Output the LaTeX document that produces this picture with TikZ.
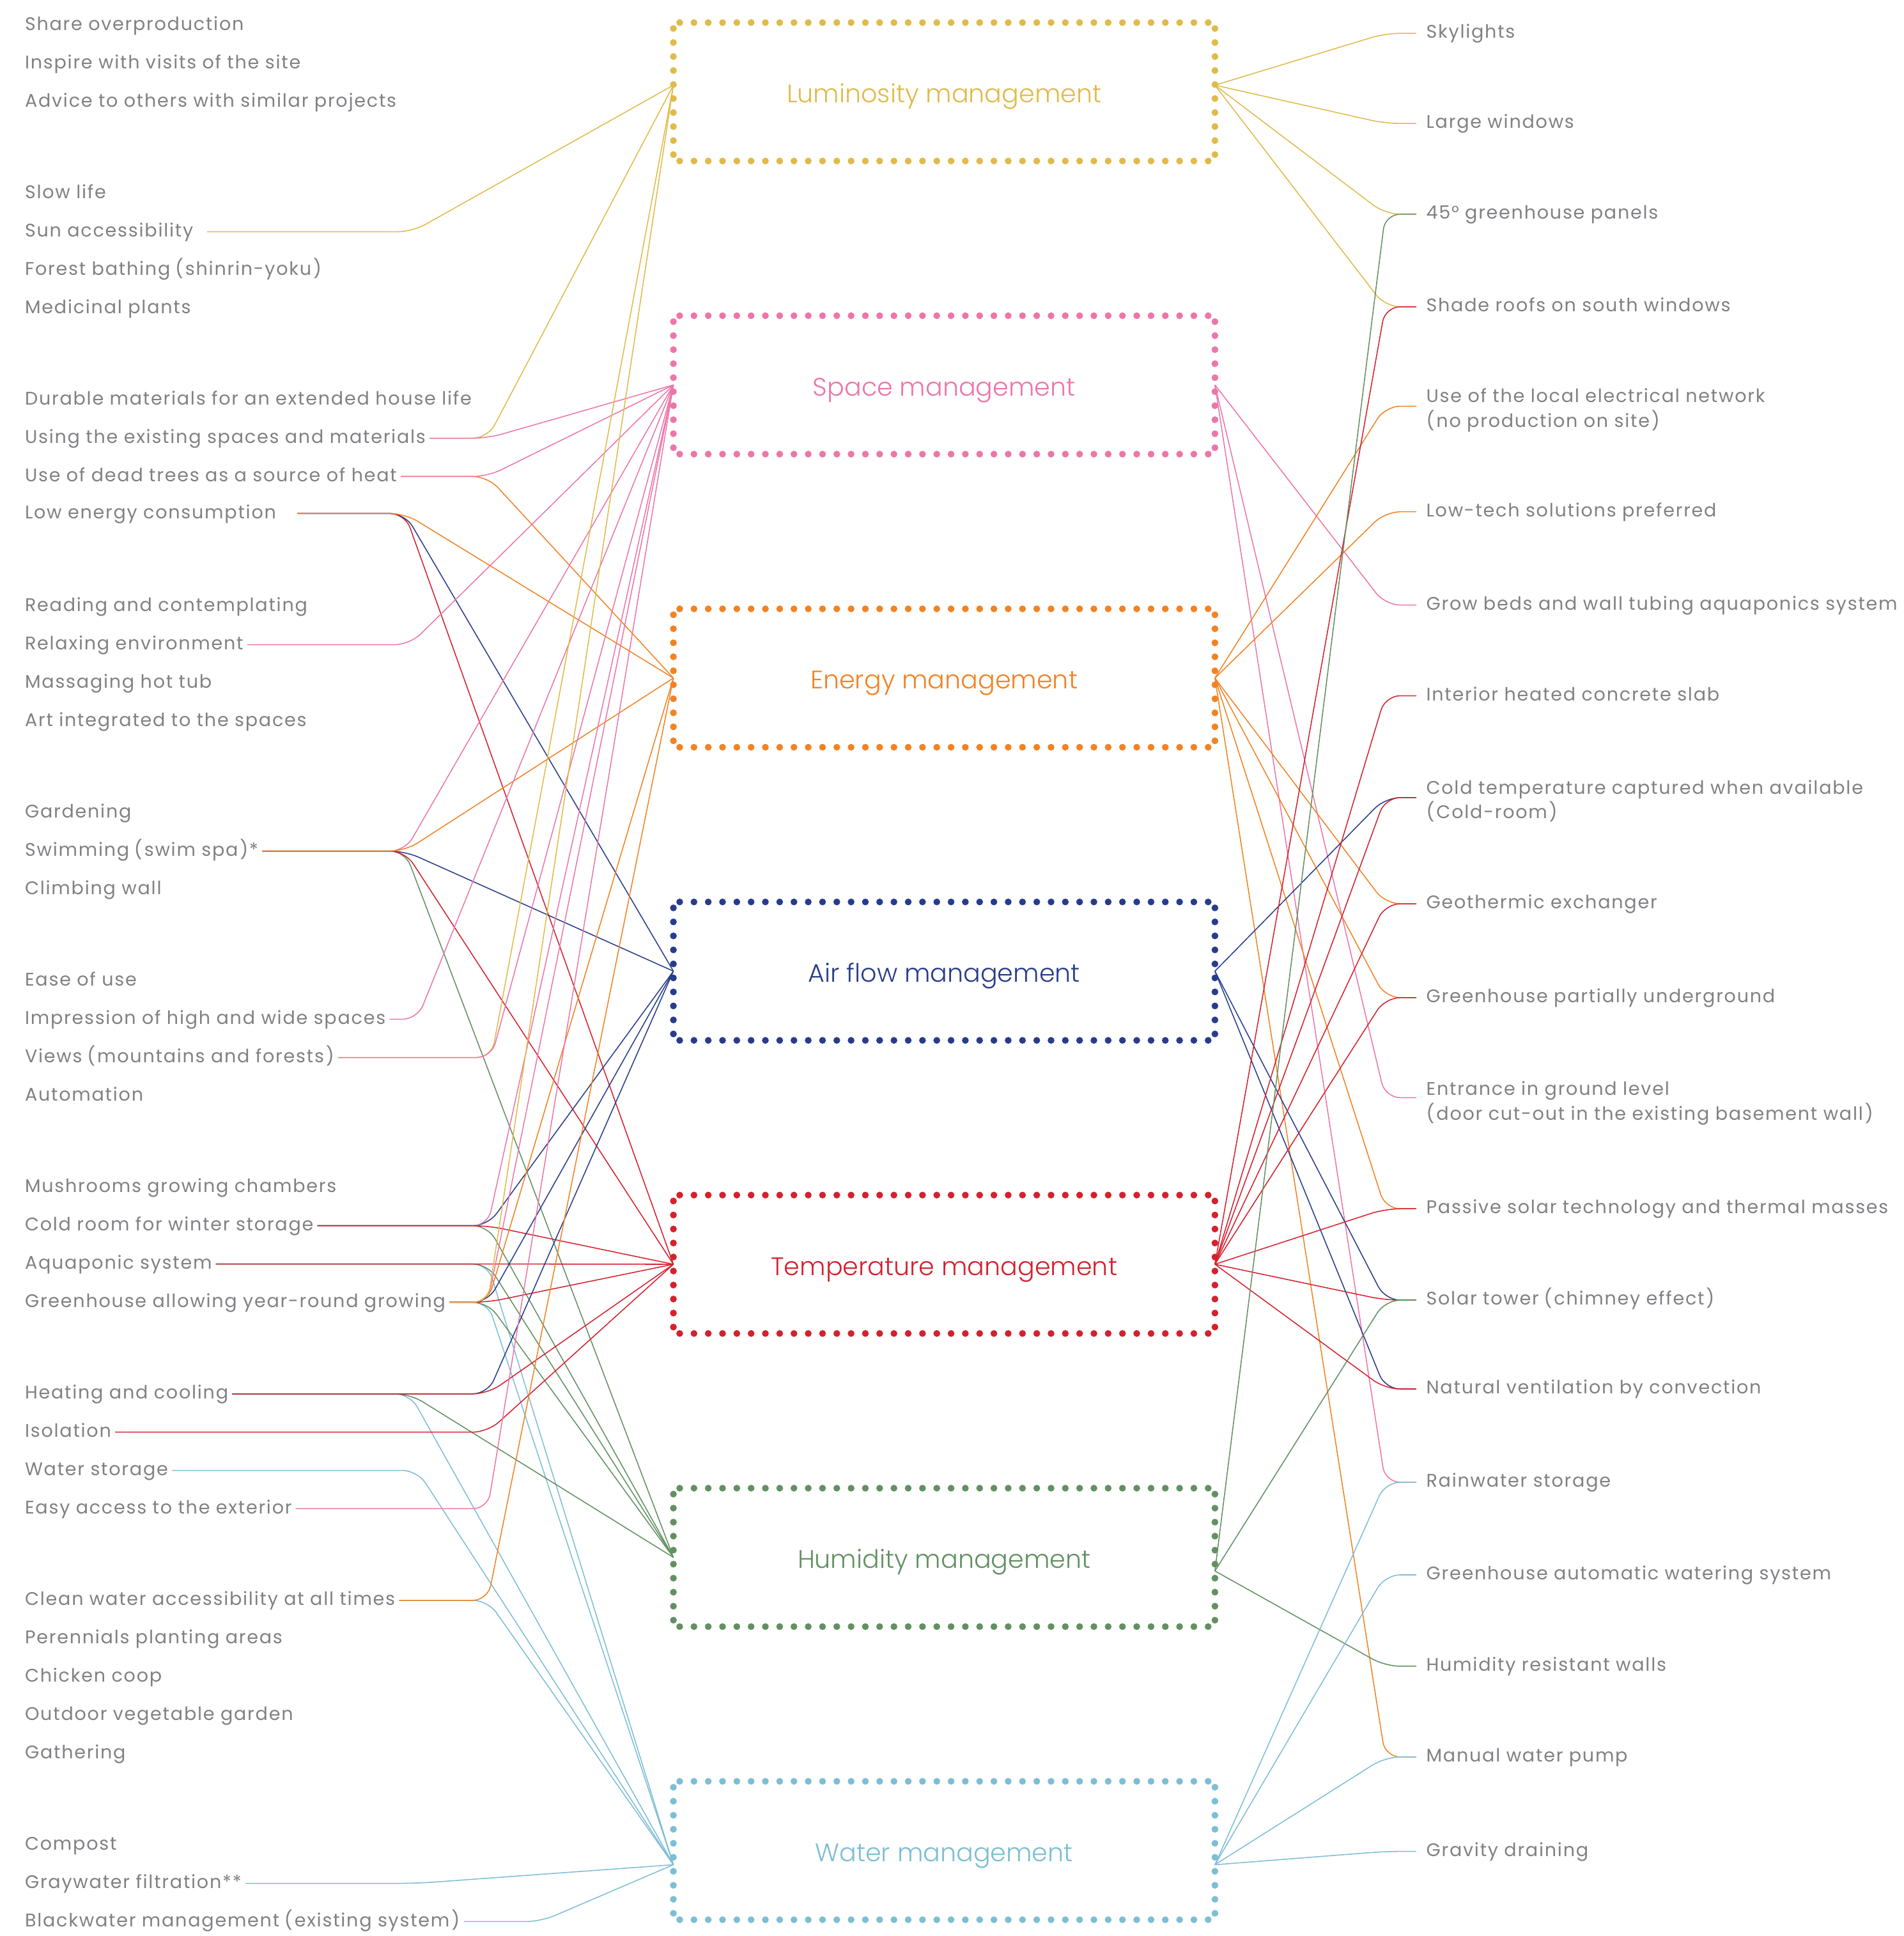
\documentclass[tikz,border=0pt]{standalone}
\usepackage{fontspec}
\setmainfont{Poppins}[LetterSpace=6.2]
\newfontfamily\boxfont{Poppins}[UprightFont=* Light]
\usetikzlibrary{calc}
\definecolor{cgold}{RGB}{224,186,74}
\definecolor{cpink}{RGB}{236,118,170}
\definecolor{corange}{RGB}{241,131,36}
\definecolor{cnavy}{RGB}{40,60,140}
\definecolor{cred}{RGB}{212,33,46}
\definecolor{cgreen}{RGB}{98,144,98}
\definecolor{cblue}{RGB}{125,190,212}
\definecolor{txtgray}{RGB}{128,128,133}
\newcommand\lp{\hspace{4pt}(\hspace{1.5pt}}
\newcommand\rp{\hspace{1.5pt})\hspace{2pt}}
\newcommand\lc[4]{\draw[conn,#1] (#2.east) -- (#2.east -| #3) -- (#4);}
\newcommand\rc[3]{\draw[conn,#1] (#2) -- (#3 -| rb) -- (#3);}
\newcommand\dotframe[2]{%
  \foreach \i in {0,...,37} {
    \fill[#2] ($(#1.north west)+(5.1+\i*11.568,0)$) circle (2.75pt);
    \fill[#2] ($(#1.south west)+(5.1+\i*11.568,0)$) circle (2.75pt);
  }
  \foreach \j in {0,...,9} {
    \fill[#2] ($(#1.north west)+(0,4.8+\j*11.344)$) circle (2.75pt);
    \fill[#2] ($(#1.north east)+(0,4.8+\j*11.344)$) circle (2.75pt);
  }}
\begin{document}
\begin{tikzpicture}[x=1pt,y=-1pt,
  item/.style={anchor=west, inner xsep=3pt, inner ysep=0pt, text height=8pt, text depth=0pt, text=txtgray, font=\fontsize{14.8}{18}\selectfont},
  ritem/.style={item, inner xsep=8pt},
  mbox/.style={minimum width=438.2pt, minimum height=111.7pt, inner sep=0pt, text height=17.7pt, text depth=0pt, font=\boxfont\fontsize{20.5}{24}\selectfont},
  conn/.style={line width=0.8pt, rounded corners=12pt},
]
\useasboundingbox (0,0) rectangle (1542,1568);

% ---------- boxes ----------
\node[mbox, text=cgold]   (lum) at (764.7,74.35)   {Luminosity management};
\node[mbox, text=cpink]   (spa) at (764.7,311.75)  {Space management};
\node[mbox, text=corange] (ene) at (764.7,549.15)  {Energy management};
\node[mbox, text=cnavy]   (air) at (764.7,786.55)  {Air flow management};
\node[mbox, text=cred]    (tmp) at (764.7,1023.95) {Temperature management};
\node[mbox, text=cgreen]  (hum) at (764.7,1261.35) {Humidity management};
\node[mbox, text=cblue]   (wat) at (764.7,1498.75) {Water management};

\coordinate (lumL) at ([yshift=5.35pt]lum.west);
\coordinate (lumR) at ([yshift=5.35pt]lum.east);
\coordinate (spaL) at (spa.west);
\coordinate (spaR) at (spa.east);
\coordinate (eneL) at (ene.west);
\coordinate (eneR) at (ene.east);
\coordinate (airL) at (air.west);
\coordinate (airR) at (air.east);
\coordinate (tmpL) at (tmp.west);
\coordinate (tmpR) at (tmp.east);
\coordinate (humL) at (hum.west);
\coordinate (humR) at ([yshift=-11pt]hum.east);
\coordinate (watL) at ([yshift=-11.5pt]wat.west);
\coordinate (watR) at ([yshift=-11.5pt]wat.east);

% ---------- left items ----------
\node[item] (lshare)   at (17,20.5)   {Share overproduction};
\node[item] (linspire) at (17,51.5)   {Inspire with visits of the site};
\node[item] (ladvice)  at (17,82.5)   {Advice to others with similar projects};
\node[item] (lslow)    at (17,156.7)  {Slow life};
\node[item] (lsun)     at (17,187.7)  {Sun accessibility};
\node[item] (lforest)  at (17,218.7)  {Forest bathing\lp shinrin-yoku\rp};
\node[item] (lmedic)   at (17,249.7)  {Medicinal plants};
\node[item] (ldurable) at (17,323.9)  {Durable materials for an extended house life};
\node[item] (lusing)   at (17,354.9)  {Using the existing spaces and materials};
\node[item] (ldead)    at (17,385.9)  {Use of dead trees as a source of heat};
\node[item] (llow)     at (17,415.9)  {Low energy consumption};
\node[item] (lread)    at (17,491.1)  {Reading and contemplating};
\node[item] (lrelax)   at (17,522.1)  {Relaxing environment};
\node[item] (lmassage) at (17,553.1)  {Massaging hot tub};
\node[item] (lart)     at (17,584.1)  {Art integrated to the spaces};
\node[item] (lgarden)  at (17,658.3)  {Gardening};
\node[item] (lswim)    at (17,689.3)  {Swimming\lp swim spa\hspace{1.5pt})*};
\node[item] (lclimb)   at (17,720.3)  {Climbing wall};
\node[item] (lease)    at (17,794.5)  {Ease of use};
\node[item] (limpr)    at (17,825.5)  {Impression of high and wide spaces};
\node[item] (lviews)   at (17,856.5)  {Views\lp mountains and forests\rp};
\node[item] (lauto)    at (17,887.5)  {Automation};
\node[item] (lmush)    at (17,961.7)  {Mushrooms growing chambers};
\node[item] (lcold)    at (17,992.7)  {Cold room for winter storage};
\node[item] (laqua)    at (17,1023.7) {Aquaponic system};
\node[item] (lgreen)   at (17,1054.7) {Greenhouse allowing year-round growing};
\node[item] (lheat)    at (17,1128.9) {Heating and cooling};
\node[item] (liso)     at (17,1159.9) {Isolation};
\node[item] (lwstor)   at (17,1190.9) {Water storage};
\node[item] (leasy)    at (17,1221.9) {Easy access to the exterior};
\node[item] (lclean)   at (17,1296.1) {Clean water accessibility at all times};
\node[item] (lperen)   at (17,1327.1) {Perennials planting areas};
\node[item] (lchick)   at (17,1358.1) {Chicken coop};
\node[item] (lveg)     at (17,1389.1) {Outdoor vegetable garden};
\node[item] (lgather)  at (17,1420.1) {Gathering};
\node[item] (lcompost) at (17,1494.3) {Compost};
\node[item] (lgray)    at (17,1525.3) {Graywater filtration**};
\node[item] (lblack)   at (17,1556.3) {Blackwater management\lp existing system\rp};

% ---------- right items ----------
\node[ritem] (rsky)   at (1147,27)    {Skylights};
\node[ritem] (rlarge) at (1147,100)   {Large windows};
\node[ritem] (r45)    at (1147,173.5) {45° greenhouse panels};
\node[ritem] (rshade) at (1147,248.5) {Shade roofs on south windows};
\node[ritem] (ruse)   at (1147,322)   {Use of the local electrical network};
\node[ritem] (ruse2)  at (1147,342)   {(\hspace{1.5pt}no production on site\hspace{1.5pt})};
\node[ritem] (rlow)   at (1147,414.5) {Low-tech solutions preferred};
\node[ritem] (rgrow)  at (1147,490)   {Grow beds and wall tubing aquaponics system};
\node[ritem] (rint)   at (1147,563.5) {Interior heated concrete slab};
\node[ritem] (rcold)  at (1147,639)   {Cold temperature captured when available};
\node[ritem] (rcold2) at (1147,659)   {(\hspace{1.5pt}Cold-room\hspace{1.5pt})};
\node[ritem] (rgeo)   at (1147,732)   {Geothermic exchanger};
\node[ritem] (rghu)   at (1147,808)   {Greenhouse partially underground};
\node[ritem] (rent)   at (1147,883)   {Entrance in ground level};
\node[ritem] (rent2)  at (1147,903)   {(\hspace{1.5pt}door cut-out in the existing basement wall\hspace{1.5pt})};
\node[ritem] (rpas)   at (1147,979)   {Passive solar technology and thermal masses};
\node[ritem] (rsol)   at (1147,1053)  {Solar tower\lp chimney effect\rp};
\node[ritem] (rnat)   at (1147,1125)  {Natural ventilation by convection};
\node[ritem] (rrain)  at (1147,1200.5) {Rainwater storage};
\node[ritem] (rgha)   at (1147,1275.5) {Greenhouse automatic watering system};
\node[ritem] (rhum)   at (1147,1349.5) {Humidity resistant walls};
\node[ritem] (rman)   at (1147,1423)  {Manual water pump};
\node[ritem] (rgrav)  at (1147,1499.5) {Gravity draining};

\coordinate (esky)   at (rsky.west);
\coordinate (elarge) at (rlarge.west);
\coordinate (e45)    at (r45.west);
\coordinate (eshade) at (rshade.west);
\coordinate (euse)   at ([yshift=-7pt]ruse.west);
\coordinate (elow)   at (rlow.west);
\coordinate (egrow)  at (rgrow.west);
\coordinate (eint)   at (rint.west);
\coordinate (ecold)  at ([yshift=-7pt]rcold.west);
\coordinate (egeo)   at (rgeo.west);
\coordinate (eghu)   at (rghu.west);
\coordinate (eent)   at ([yshift=-6pt]rent.west);
\coordinate (epas)   at (rpas.west);
\coordinate (esol)   at (rsol.west);
\coordinate (enat)   at (rnat.west);
\coordinate (erain)  at (rrain.west);
\coordinate (egha)   at (rgha.west);
\coordinate (ehum)   at (rhum.west);
\coordinate (eman)   at (rman.west);
\coordinate (egrav)  at (rgrav.west);

% ---------- bend columns ----------
\coordinate (rb)   at (1122,0);
\coordinate (b328) at (328,0);
\coordinate (b332) at (332,0);
\coordinate (b334) at (334,0);
\coordinate (b338) at (338,0);
\coordinate (b395) at (395,0);
\coordinate (b398) at (398,0);
\coordinate (b438) at (438,0);

% ---------- left connectors ----------
\draw[conn,cgold] ([xshift=8pt]lsun.east) -- (lsun.east -| b334) -- (lumL);
\lc{cgold}{lusing}{b395}{lumL}
\lc{cpink}{lusing}{b395}{spaL}
\lc{corange}{ldead}{b395}{eneL}
\lc{cpink}{ldead}{b395}{spaL}
\draw[conn,cred] ([xshift=14pt]llow.east) -- (llow.east -| b328) -- (tmpL);
\draw[conn,cnavy] ([xshift=14pt]llow.east) -- (llow.east -| b328) -- (airL);
\draw[conn,corange] ([xshift=14pt]llow.east) -- (llow.east -| b328) -- (eneL);
\lc{cpink}{lrelax}{b332}{spaL}
\lc{cgreen}{lswim}{b328}{humL}
\lc{cred}{lswim}{b328}{tmpL}
\lc{cnavy}{lswim}{b328}{airL}
\lc{cpink}{lswim}{b328}{spaL}
\lc{corange}{lswim}{b328}{eneL}
\lc{cpink}{limpr}{b338}{spaL}
\lc{cgold}{lviews}{b398}{lumL}
\lc{cpink}{lviews}{b398}{spaL}
\lc{cgreen}{lcold}{b395}{humL}
\lc{cnavy}{lcold}{b395}{airL}
\lc{cpink}{lcold}{b395}{spaL}
\lc{cred}{lcold}{b395}{tmpL}
\lc{cblue}{laqua}{b395}{watL}
\lc{cgreen}{laqua}{b395}{humL}
\lc{cred}{laqua}{b395}{tmpL}
\lc{cblue}{lgreen}{b395}{watL}
\lc{cgreen}{lgreen}{b395}{humL}
\lc{cnavy}{lgreen}{b395}{airL}
\lc{cpink}{lgreen}{b395}{spaL}
\lc{corange}{lgreen}{b395}{eneL}
\lc{cred}{lgreen}{b395}{tmpL}
\lc{cgold}{lgreen}{b395}{lumL}
\lc{cblue}{lheat}{b332}{watL}
\lc{cgreen}{lheat}{b332}{humL}
\lc{cnavy}{lheat}{b395}{airL}
\lc{cred}{lheat}{b395}{tmpL}
\lc{cred}{liso}{b395}{tmpL}
\lc{cblue}{lwstor}{b338}{watL}
\lc{cpink}{leasy}{b395}{spaL}
\lc{cblue}{lclean}{b395}{watL}
\lc{corange}{lclean}{b395}{eneL}
\lc{cblue}{lgray}{b338}{watL}
\lc{cblue}{lblack}{b438}{watL}

% ---------- right connectors ----------
\rc{cgold}{lumR}{esky}
\rc{cgold}{lumR}{elarge}
\rc{cgold}{lumR}{e45}
\rc{cgold}{lumR}{eshade}
\rc{cpink}{spaR}{egrow}
\rc{cpink}{spaR}{eent}
\rc{cpink}{spaR}{erain}
\rc{corange}{eneR}{euse}
\rc{corange}{eneR}{elow}
\rc{corange}{eneR}{egeo}
\rc{corange}{eneR}{eghu}
\rc{corange}{eneR}{epas}
\rc{corange}{eneR}{eman}
\rc{cnavy}{airR}{ecold}
\rc{cnavy}{airR}{esol}
\rc{cnavy}{airR}{enat}
\rc{cred}{tmpR}{eshade}
\rc{cred}{tmpR}{eint}
\rc{cred}{tmpR}{ecold}
\rc{cred}{tmpR}{egeo}
\rc{cred}{tmpR}{eghu}
\rc{cred}{tmpR}{epas}
\rc{cred}{tmpR}{esol}
\rc{cred}{tmpR}{enat}
\rc{cgreen}{humR}{e45}
\rc{cgreen}{humR}{esol}
\rc{cgreen}{humR}{ehum}
\rc{cblue}{watR}{erain}
\rc{cblue}{watR}{egha}
\rc{cblue}{watR}{eman}
\rc{cblue}{watR}{egrav}

% ---------- dotted frames ----------
\dotframe{lum}{cgold}
\dotframe{spa}{cpink}
\dotframe{ene}{corange}
\dotframe{air}{cnavy}
\dotframe{tmp}{cred}
\dotframe{hum}{cgreen}
\dotframe{wat}{cblue}
\end{tikzpicture}
\end{document}
